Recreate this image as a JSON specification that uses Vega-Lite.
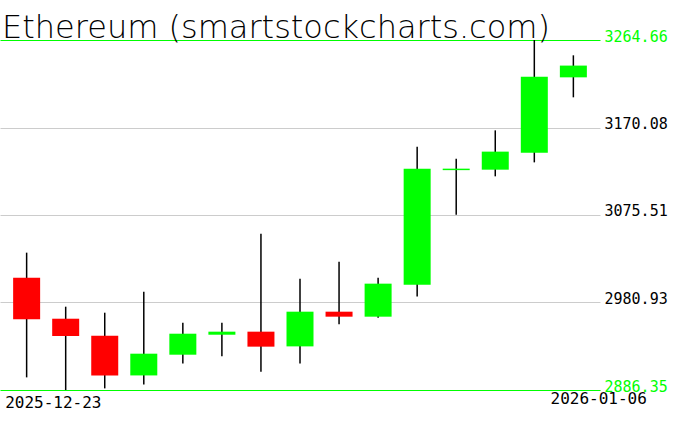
{
  "$schema": "https://vega.github.io/schema/vega-lite/v6.json",
  "width": 600,
  "height": 350,
  "autosize": {"type": "none"},
  "padding": {"left": 0, "top": 40, "right": 76, "bottom": 41},
  "background": "white",
  "title": {
    "text": "Ethereum (smartstockcharts.com)",
    "anchor": "start",
    "frame": "group",
    "font": "DejaVu Sans",
    "fontWeight": 200,
    "fontSize": 32,
    "color": "black",
    "offset": -16,
    "dx": 2
  },
  "config": {"view": {"stroke": null}},
  "data": {
    "values": [
      {"date": "2025-12-23", "open": 3007.8, "high": 3034.8, "low": 2900.0, "close": 2962.7},
      {"date": "2025-12-24", "open": 2963.4, "high": 2976.4, "low": 2886.35, "close": 2944.7},
      {"date": "2025-12-25", "open": 2945.0, "high": 2969.9, "low": 2888.1, "close": 2902.1},
      {"date": "2025-12-26", "open": 2902.1, "high": 2992.6, "low": 2892.4, "close": 2925.6},
      {"date": "2025-12-27", "open": 2924.5, "high": 2959.1, "low": 2915.1, "close": 2947.2},
      {"date": "2025-12-28", "open": 2946.1, "high": 2959.1, "low": 2922.7, "close": 2949.4},
      {"date": "2025-12-29", "open": 2949.4, "high": 3055.3, "low": 2906.1, "close": 2933.2},
      {"date": "2025-12-30", "open": 2933.5, "high": 3006.7, "low": 2915.1, "close": 2971.0},
      {"date": "2025-12-31", "open": 2971.0, "high": 3025.1, "low": 2957.3, "close": 2965.6},
      {"date": "2026-01-01", "open": 2965.6, "high": 3007.8, "low": 2964.5, "close": 3001.3},
      {"date": "2026-01-02", "open": 3000.2, "high": 3149.4, "low": 2987.5, "close": 3125.6},
      {"date": "2026-01-03", "open": 3124.0, "high": 3136.4, "low": 3075.9, "close": 3125.6},
      {"date": "2026-01-04", "open": 3124.5, "high": 3167.0, "low": 3117.3, "close": 3144.0},
      {"date": "2026-01-05", "open": 3142.9, "high": 3264.66, "low": 3132.4, "close": 3225.0},
      {"date": "2026-01-06", "open": 3224.3, "high": 3248.1, "low": 3202.7, "close": 3237.0}
    ]
  },
  "encoding": {
    "x": {
      "field": "date",
      "type": "ordinal",
      "sort": null,
      "scale": {"type": "point", "padding": 0.682},
      "axis": {
        "title": null,
        "domain": false,
        "ticks": false,
        "grid": false,
        "labelAngle": 0,
        "labelExpr": "datum.value == '2025-12-23' || datum.value == '2026-01-06' ? datum.value : ''",
        "labelAlign": {"condition": {"test": "datum.value == '2025-12-23'", "value": "left"}, "value": "right"},
        "labelOffset": {"condition": {"test": "datum.value == '2025-12-23'", "value": -22}, "value": 73},
        "labelPadding": {"condition": {"test": "datum.value == '2025-12-23'", "value": 4}, "value": 0},
        "labelBaseline": "top",
        "labelFont": "DejaVu Sans Mono",
        "labelFontSize": 16,
        "labelColor": "black",
        "labelOverlap": false,
        "labelFlush": false,
        "labelBound": false
      }
    }
  },
  "layer": [
    {
      "mark": {"type": "rule", "color": "black", "strokeWidth": 1.5},
      "encoding": {
        "y": {
          "field": "low",
          "type": "quantitative",
          "scale": {"domain": [2886.35, 3264.66], "nice": false, "zero": false},
          "axis": {
            "orient": "right",
            "title": null,
            "values": [2886.35, 2980.93, 3075.51, 3170.08, 3264.66],
            "format": ".2f",
            "domain": false,
            "ticks": false,
            "grid": true,
            "gridColor": {"condition": {"test": "datum.value == 2886.35 || datum.value == 3264.66", "value": "#00ff00"}, "value": "#cccccc"},
            "gridOpacity": 1,
            "gridWidth": 1,
            "labelColor": {"condition": {"test": "datum.value == 2886.35 || datum.value == 3264.66", "value": "#00ff00"}, "value": "black"},
            "labelFont": "DejaVu Sans Mono",
            "labelFontSize": 15,
            "labelPadding": 4,
            "labelAlign": "left",
            "labelBaseline": "alphabetic",
            "labelOffset": 1,
            "labelOverlap": false,
            "labelFlush": false,
            "labelBound": false
          }
        },
        "y2": {"field": "high"}
      }
    },
    {
      "mark": {"type": "bar", "width": 27},
      "encoding": {
        "y": {"field": "open", "type": "quantitative"},
        "y2": {"field": "close"},
        "color": {
          "condition": {"test": "datum.close >= datum.open", "value": "#00ff00"},
          "value": "#ff0000"
        }
      }
    }
  ]
}
